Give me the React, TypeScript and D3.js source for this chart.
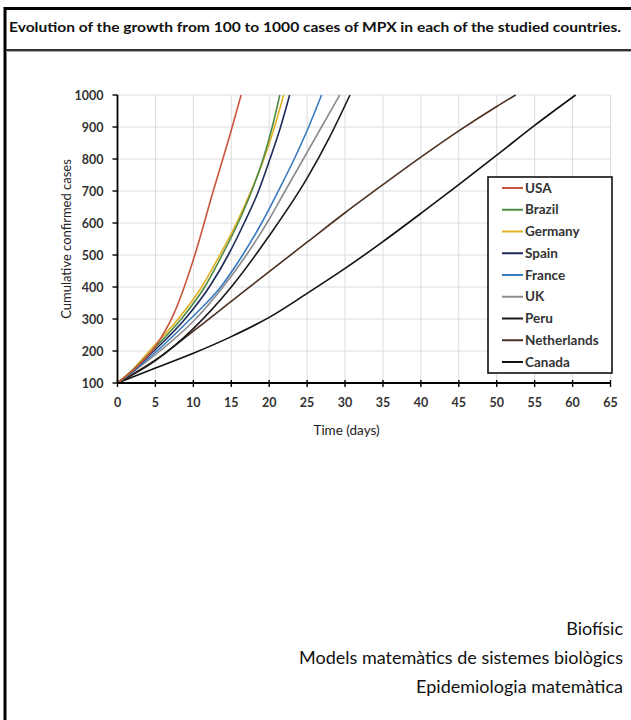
import React from "react";
import * as d3 from "d3";

// days from 100 cases, cumulative confirmed cases
const countries = ["USA", "Brazil", "Germany", "Spain", "France", "UK", "Peru", "Netherlands", "Canada"];
const colors = ["#c8553d", "#4f8b45", "#e2b122", "#1f2a5c", "#3a7abf", "#8c8c8c", "#1a1a1a", "#4a3020", "#111111"];

const usa = [[0, 100], [2.5, 150], [5, 215], [7.5, 320], [10, 485], [12.5, 690], [15, 890], [16.3, 1000]];
const brazil = [[0, 100], [2, 140], [4.5, 200], [8.4, 300], [11.5, 400], [13.8, 500], [15.9, 600], [17.7, 700], [19.2, 800], [20.4, 900], [21.4, 1000]];
const germany = [[0, 100], [2, 142], [4.2, 200], [8.0, 300], [11.1, 400], [13.5, 500], [15.7, 600], [17.6, 700], [19.3, 800], [20.7, 900], [21.9, 1000]];
const spain = [[0, 100], [2, 138], [4.8, 200], [8.9, 300], [12.1, 400], [14.6, 500], [16.7, 600], [18.6, 700], [20.1, 800], [21.5, 900], [22.7, 1000]];
const france = [[0, 100], [2.5, 145], [5.2, 200], [9.6, 300], [13.6, 400], [16.5, 500], [19.0, 600], [21.2, 700], [23.3, 800], [25.2, 900], [26.9, 1000]];
const uk = [[0, 100], [2.5, 143], [5.6, 200], [10.3, 300], [13.9, 400], [17.0, 500], [19.7, 600], [22.1, 700], [24.5, 800], [26.9, 900], [29.3, 1000]];
const peru = [[0, 100], [5, 170], [10, 270], [15, 400], [20, 560], [25, 740], [28, 870], [30.65, 1000]];
const netherlands = [[0, 100], [5, 172], [10, 262], [15, 355], [20, 448], [25, 540], [30, 632], [35, 720], [40, 806], [45, 888], [50, 964], [52.5, 1000]];
const canada = [[0, 100], [5, 147], [10, 193], [15, 245], [20, 305], [25, 380], [30, 458], [35, 542], [40, 630], [45, 720], [50, 812], [55, 905], [60.4, 1000]];

const series = [usa, brazil, germany, spain, france, uk, peru, netherlands, canada];

const dayTicks = [0, 5, 10, 15, 20, 25, 30, 35, 40, 45, 50, 55, 60, 65];
const caseTicks = [100, 200, 300, 400, 500, 600, 700, 800, 900, 1000];

const title = "Evolution of the growth from 100 to 1000 cases of MPX in each of the studied countries.";
const footer = ["Biofísic", "Models matemàtics de sistemes biològics", "Epidemiologia matemàtica"];

const font = "Lato, 'Open Sans', sans-serif";

const Chart = () => {
  const width = 631;
  const height = 720;

  const x = d3.scaleLinear().domain([0, 65]).range([117.5, 610.5]);
  const y = d3.scaleLinear().domain([100, 1000]).range([383, 95]);

  const line = d3
    .line<number[]>()
    .x((d) => x(d[0]))
    .y((d) => y(d[1]))
    .curve(d3.curveMonotoneX);

  const legendX = 488;
  const legendY = 177;
  const rowH = 21.75;

  return (
    <svg width={width} height={height} style={{ position: "absolute", left: 0, top: 0 }}>
      <rect width={width} height={height} fill="#fff" />
      {/* frame */}
      <line x1={4} y1={8.5} x2={width} y2={8.5} stroke="#000" strokeWidth={3} />
      <line x1={5} y1={7} x2={5} y2={height} stroke="#000" strokeWidth={3} />
      <line x1={6} y1={50} x2={width} y2={50} stroke="#333" strokeWidth={2} />
      <line x1={6} y1={51.5} x2={width} y2={51.5} stroke="#aaa" strokeWidth={1} />

      <text x={9} y={32} fontFamily={font} fontWeight="bold" fontSize={12.5} fill="#111"
        textLength={612} lengthAdjust="spacingAndGlyphs">
        {title}
      </text>

      {/* grid */}
      {dayTicks.slice(1).map((d) => (
        <line key={"gx" + d} x1={x(d)} x2={x(d)} y1={y(1000)} y2={y(100)} stroke="#dcdcdc" strokeWidth={1} />
      ))}
      {caseTicks.slice(1).map((c) => (
        <line key={"gy" + c} x1={x(0)} x2={x(65)} y1={y(c)} y2={y(c)} stroke="#dcdcdc" strokeWidth={1} />
      ))}

      {/* curves */}
      {series
        .map((s, i) => (
          <path key={countries[i]} d={line(s) ?? ""} fill="none" stroke={colors[i]} strokeWidth={1.6} />
        ))
        .reverse()}

      {/* y axis */}
      <line x1={x(0)} x2={x(0)} y1={y(1000)} y2={y(100)} stroke="#000" strokeWidth={1.8} />
      {caseTicks.map((c) => (
        <g key={"yt" + c} transform={`translate(${x(0)},${y(c)})`}>
          <line x1={-5} x2={0} stroke="#000" strokeWidth={1.4} />
          <text x={-14} y={4.5} textAnchor="end" fontFamily={font} fontWeight="bold" fontSize={12.5} fill="#333">
            {c}
          </text>
        </g>
      ))}

      {/* x axis */}
      <line x1={x(0)} x2={x(65)} y1={y(100)} y2={y(100)} stroke="#000" strokeWidth={1.8} />
      {dayTicks.map((d) => (
        <g key={"xt" + d} transform={`translate(${x(d)},${y(100)})`}>
          <line y1={-3} y2={4} stroke="#000" strokeWidth={1.4} />
          <text y={24} textAnchor="middle" fontFamily={font} fontWeight="bold" fontSize={12.5} fill="#333">
            {d}
          </text>
        </g>
      ))}

      <text x={x(30.2)} y={y(100) + 52} textAnchor="middle" fontFamily={font} fontSize={13.5} fill="#222">
        Time (days)
      </text>
      <text transform={`translate(71,${(y(100) + y(1000)) / 2}) rotate(-90)`} textAnchor="middle"
        fontFamily={font} fontSize={13} fill="#222">
        Cumulative confirmed cases
      </text>

      {/* legend */}
      <rect x={legendX} y={legendY} width={124} height={196} fill="#fff" stroke="#111" strokeWidth={1.6} />
      {countries.map((c, i) => (
        <g key={"lg" + c} transform={`translate(${legendX},${legendY + 11 + i * rowH})`}>
          <line x1={14} x2={35} stroke={colors[i]} strokeWidth={2} />
          <text x={37} y={4.5} fontFamily={font} fontWeight="bold" fontSize={13.5} fill="#333">
            {c}
          </text>
        </g>
      ))}

      {/* footer */}
      {footer.map((t, i) => (
        <text key={t} x={623} y={635 + i * 29} textAnchor="end" fontFamily={font} fontSize={18} fill="#111">
          {t}
        </text>
      ))}
    </svg>
  );
};

export default function App() {
  return <Chart />;
}
